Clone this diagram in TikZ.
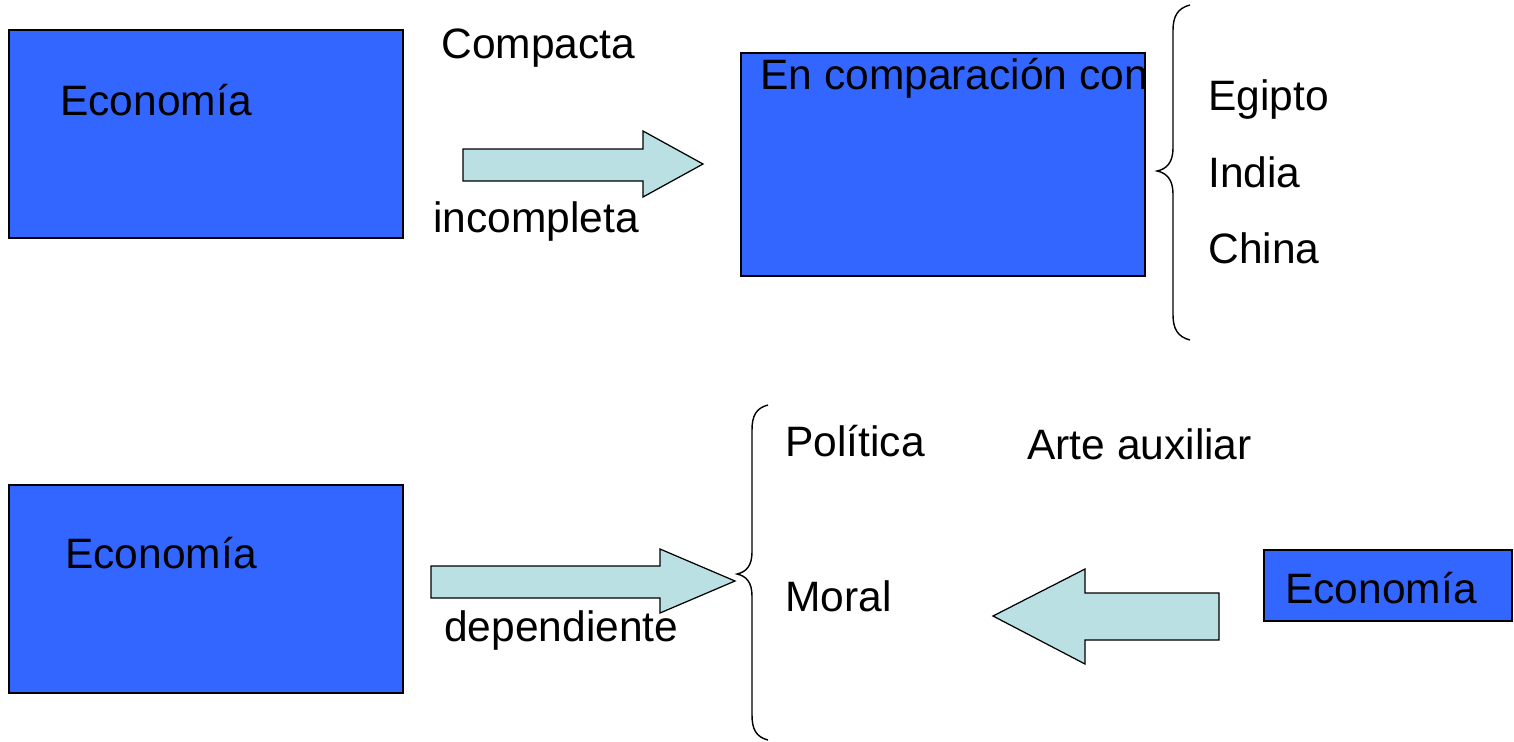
\documentclass[tikz,border=0pt]{standalone}
\usepackage{fontspec}
\setmainfont{Liberation Sans}
\definecolor{boxblue}{HTML}{3366FF}
\definecolor{arrowfill}{HTML}{BAE0E3}
\begin{document}
\begin{tikzpicture}[x=0.02cm,y=-0.02cm,
  bluebox/.style={draw=black,fill=boxblue,line width=0.8pt},
  blockarrow/.style={draw=black,fill=arrowfill,line width=0.7pt,line join=miter},
  bracestyle/.style={draw=black,line width=0.8pt},
  lbl/.style={anchor=base west,inner sep=0pt,font=\fontsize{24.2pt}{28pt}\selectfont}]
\useasboundingbox[fill=white] (0,0) rectangle (1514,741);
% boxes
\draw[bluebox] (9,30) rectangle (403,238);
\draw[bluebox] (741,53) rectangle (1145,276);
\draw[bluebox] (9,485) rectangle (403,693);
\draw[bluebox] (1264,550) rectangle (1512,621);
% arrows
\draw[blockarrow] (463,149) -- (643,149) -- (643,131) -- (703,164) -- (643,197) -- (643,181) -- (463,181) -- cycle;
\draw[blockarrow] (431,566) -- (660,566) -- (660,549) -- (735,581) -- (660,613) -- (660,598) -- (431,598) -- cycle;
\draw[blockarrow] (1219,593) -- (1085,593) -- (1085,569) -- (993,616) -- (1085,664) -- (1085,640) -- (1219,640) -- cycle;
% braces
\draw[bracestyle] (1190,5) .. controls (1178,8) and (1173,16) .. (1173,30) -- (1173,148)
  .. controls (1173,162) and (1167,169) .. (1157,171)
  .. controls (1167,173) and (1173,180) .. (1173,194) -- (1173,315)
  .. controls (1173,329) and (1178,337) .. (1190,340);
\draw[bracestyle] (768,405) .. controls (756,408) and (752,416) .. (752,430) -- (752,552)
  .. controls (752,566) and (746,572) .. (737,574)
  .. controls (746,576) and (752,582) .. (752,596) -- (752,715)
  .. controls (752,729) and (756,737) .. (768,740);
% labels
\node[lbl] (e1) at (60,115) {Economía};
\node[lbl] (comp) at (441,58) {Compacta};
\node[lbl] (inc) at (433,232) {incompleta};
\node[lbl] (enc) at (760,89) {En comparación con};
\node[lbl] (eg) at (1208,110) {Egipto};
\node[lbl] (ind) at (1208,187) {India};
\node[lbl] (chi) at (1208,263) {China};
\node[lbl] (e2) at (65,568) {Economía};
\node[lbl] (dep) at (444,641) {dependiente};
\node[lbl] (pol) at (785,456) {Política};
\node[lbl] (mor) at (785,611) {Moral};
\node[lbl] (arte) at (1027,459) {Arte auxiliar};
\node[lbl] (e3) at (1285,603) {Economía};
\end{tikzpicture}
\end{document}
